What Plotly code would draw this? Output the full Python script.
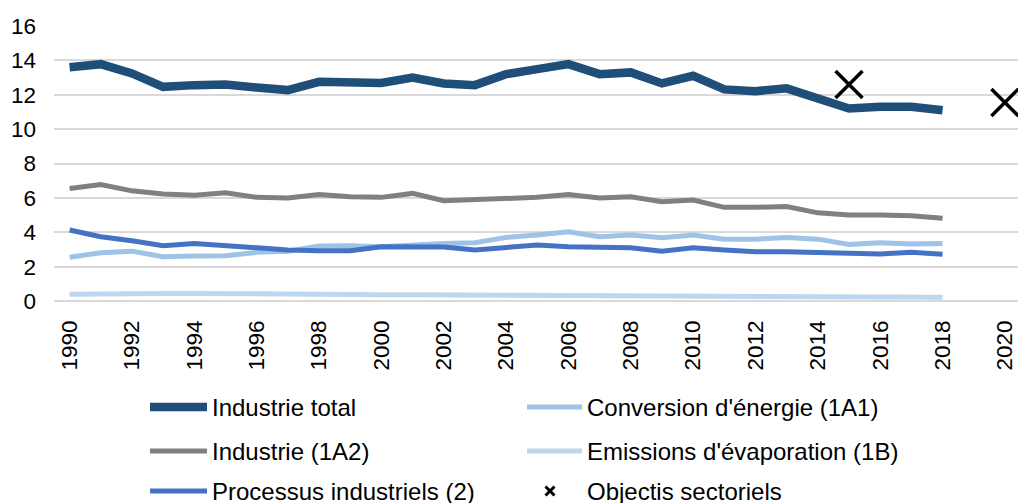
import plotly.graph_objects as go

# values (Mt CO2-eq)
years = list(range(1990, 2019))
industrie_total = [13.6, 13.78, 13.24, 12.46, 12.56, 12.6, 12.42, 12.27, 12.75, 12.66,
                   12.69, 13.0, 12.66, 12.56, 13.2, 13.49, 13.78, 13.2, 13.3, 12.66,
                   13.1, 12.31, 12.21, 12.37, 11.78, 11.2, 11.3, 11.3, 11.1]
conversion_1a1 = [2.54, 2.81, 2.9, 2.58, 2.62, 2.64, 2.83, 2.9, 3.2, 3.22,
                  3.16, 3.29, 3.35, 3.39, 3.7, 3.84, 4.03, 3.74, 3.84, 3.68,
                  3.84, 3.6, 3.6, 3.7, 3.6, 3.29, 3.39, 3.31, 3.35]
industrie_1a2 = [6.55, 6.78, 6.41, 6.22, 6.16, 6.3, 6.03, 5.99, 6.2, 6.07,
                 6.03, 6.26, 5.83, 5.91, 6.0, 6.03, 6.2, 6.0, 6.07, 5.77,
                 5.87, 5.45, 5.45, 5.5, 5.13, 5.0, 5.0, 4.96, 4.81]
evaporation_1b = [0.40, 0.43, 0.44, 0.44, 0.44, 0.44, 0.43, 0.42, 0.41, 0.39,
                  0.37, 0.36, 0.35, 0.34, 0.33, 0.32, 0.31, 0.30, 0.30, 0.29,
                  0.29, 0.30, 0.28, 0.26, 0.25, 0.24, 0.23, 0.22, 0.22]
processus_2 = [4.13, 3.74, 3.5, 3.22, 3.35, 3.2, 3.06, 2.97, 2.93, 2.93,
               3.16, 3.12, 3.14, 2.97, 3.1, 3.26, 3.16, 3.16, 3.1, 2.9,
               3.1, 2.97, 2.87, 2.87, 2.83, 2.73, 2.73, 2.83, 2.72]
objectif_years = [2015, 2020]
objectif_values = [12.6, 11.55]

series = [
    ("Industrie total", industrie_total, "#1F4E79", 8.5),
    ("Conversion d'énergie (1A1)", conversion_1a1, "#9DC3E6", 5),
    ("Industrie (1A2)", industrie_1a2, "#808080", 5),
    ("Emissions d'évaporation (1B)", evaporation_1b, "#BDD7EE", 5),
    ("Processus industriels (2)", processus_2, "#4472C4", 5),
]
FONT = "Liberation Sans, Arial, sans-serif"

W, H = 1018, 503
L, R, T, B = 54, 0, 26, 202

fig = go.Figure()
for name, vals, col, w in series:
    fig.add_trace(go.Scatter(x=years, y=vals, mode="lines", name=name,
                             line=dict(color=col, width=w), showlegend=False))
fig.add_trace(go.Scatter(x=objectif_years, y=objectif_values, mode="markers",
                         name="Objectis sectoriels", showlegend=False,
                         marker=dict(symbol="x-thin-open", size=27, color="black",
                                     line=dict(color="black", width=3.5))))

# hand-made legend (2 columns x 3 rows), pixel positions converted to paper
def px(x): return (x - L) / (W - L - R)
def py(y): return (H - B - y) / (H - T - B)

rows = [407, 451, 491]
cols = [(150, 207, 210), (527, 582, 585)]
for i, (name, vals, col, w) in enumerate(series):
    r, c = divmod(i, 2)
    x0, x1, xt = cols[c]
    yy = rows[r]
    fig.add_shape(type="line", xref="paper", yref="paper",
                  x0=px(x0), x1=px(x1), y0=py(yy), y1=py(yy),
                  line=dict(color=col, width=w))
    fig.add_annotation(xref="paper", yref="paper", x=px(xt), y=py(yy),
                       text=name, showarrow=False, xanchor="left", yanchor="middle",
                       font=dict(family=FONT, size=24, color="black"))
# legend entry for the targets
cx, cy, s = 550, 491, 4.5
for a, b in [(-s, -s), (-s, s)]:
    fig.add_shape(type="line", xref="paper", yref="paper",
                  x0=px(cx + a), x1=px(cx - a), y0=py(cy + b), y1=py(cy - b),
                  line=dict(color="black", width=3))
fig.add_annotation(xref="paper", yref="paper", x=px(585), y=py(491),
                   text="Objectis sectoriels", showarrow=False, xanchor="left",
                   yanchor="middle", font=dict(family=FONT, size=24, color="black"))

fig.update_layout(
    width=W, height=H,
    margin=dict(l=L, r=R, t=T, b=B, autoexpand=False),
    plot_bgcolor="white", paper_bgcolor="white",
    font=dict(family=FONT, size=22.5, color="black"),
    showlegend=False,
)
fig.update_xaxes(range=[1989.5, 2020.42], tickmode="linear", tick0=1990, dtick=2,
                 tickangle=-90, showgrid=False, zeroline=False, showline=False,
                 ticks="", ticklabelstandoff=14, tickfont=dict(size=22.5))
fig.update_yaxes(range=[0, 16], dtick=2, gridcolor="#D9D9D9", gridwidth=2,
                 zeroline=True, zerolinecolor="#D9D9D9", zerolinewidth=2,
                 showline=False, ticks="", ticklabelstandoff=17,
                 tickfont=dict(size=22.5))

# drop the browser's default body margin so the figure sits at the window corner
fig.write_html("out.html", config={"displayModeBar": False},
               post_script="document.body.style.margin='0';")
